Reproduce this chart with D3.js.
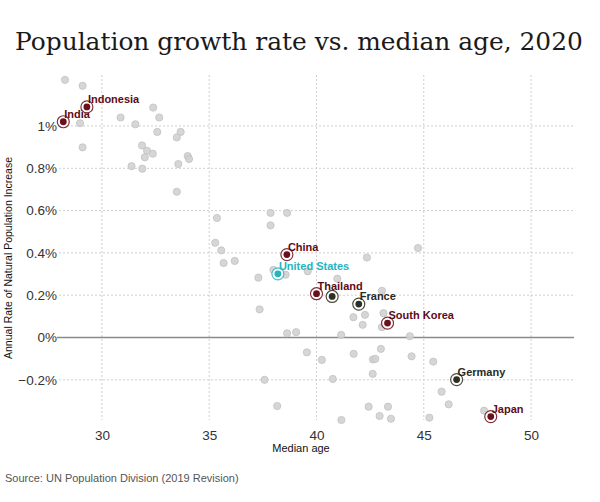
<!DOCTYPE html>
<html>
<head>
<meta charset="utf-8">
<script src="https://cdn.jsdelivr.net/npm/d3@7/dist/d3.min.js"></script>
<style>
  html, body { margin: 0; padding: 0; background: #fff; }
  svg { display: block; }
</style>
</head>
<body>
<svg id="chart" width="600" height="502"></svg>
<script>
// ---- Data (median age, annual rate of natural increase in %) ----
const otherAges = [
  28.28, 29.1, 28.98, 29.1, 32.39, 32.67, 30.87, 31.56, 32.58, 33.67, 33.49,
  31.87, 32.1, 32.37, 32.0, 34.0, 34.06, 33.56, 31.38, 31.88, 33.49,
  35.36, 37.86, 38.63, 37.86, 35.28, 35.56, 35.67, 36.19, 37.99, 38.56, 37.29,
  39.59, 40.97, 37.35, 41.72, 38.63, 39.05, 41.15, 44.73, 42.35, 43.05, 43.12,
  42.26, 42.15, 43.05, 44.35,
  39.55, 40.25, 41.73, 43.0, 44.43, 42.63, 42.74, 45.44, 37.58, 40.76, 42.62,
  38.17, 42.43, 43.33, 42.94, 43.47, 41.16, 45.26, 45.83, 46.16, 47.81
];
const otherRates = [
  1.218, 1.19, 1.013, 0.899, 1.087, 1.04, 1.04, 1.008, 0.972, 0.972, 0.946,
  0.908, 0.883, 0.869, 0.852, 0.858, 0.844, 0.82, 0.81, 0.798, 0.689,
  0.565, 0.589, 0.589, 0.53, 0.448, 0.412, 0.352, 0.362, 0.32, 0.297, 0.283,
  0.313, 0.278, 0.133, 0.096, 0.02, 0.025, 0.012, 0.423, 0.378, 0.221, 0.115,
  0.107, 0.06, 0.049, 0.006,
  -0.07, -0.106, -0.077, -0.054, -0.089, -0.104, -0.101, -0.114, -0.2, -0.196, -0.172,
  -0.324, -0.327, -0.327, -0.371, -0.384, -0.39, -0.379, -0.256, -0.316, -0.346
];

const hlNames = ["India", "Indonesia", "China", "United States", "Thailand", "", "France", "South Korea", "Germany", "Japan"];
const hlAges  = [28.2, 29.3, 38.62, 38.2, 40.0, 40.73, 41.97, 43.31, 46.53, 48.12];
const hlRates = [1.02, 1.09, 0.392, 0.301, 0.207, 0.194, 0.158, 0.068, -0.199, -0.374];
const hlGroup = ["red", "red", "red", "us", "red", "dark", "dark", "red", "dark", "red"];

const xTicks = [30, 35, 40, 45, 50];
const yTicks = [-0.2, 0, 0.2, 0.4, 0.6, 0.8, 1];

const titleText = "Population growth rate vs. median age, 2020";
const xTitle = "Median age";
const yTitle = "Annual Rate of Natural Population Increase";
const sourceText = "Source: UN Population Division (2019 Revision)";

// ---- Styles ----
const dotColor = { red: "#6a0f1c", us: "#28b3bf", dark: "#2f2e22" };
const labelColor = { red: "#5e0b16", us: "#26b4c0", dark: "#2a2a1e" };

const svg = d3.select("#chart");
const pLeft = 59, pRight = 574, pTop = 75, pBottom = 420;

const x = d3.scaleLinear().domain([28, 52]).range([pLeft, pRight]);
const y = d3.scaleLinear().domain([-0.39, 1.241]).range([pBottom, pTop]);

// Title
const title = svg.append("text")
  .attr("x", 15).attr("y", 50)
  .attr("font-family", "'DejaVu Serif', Georgia, serif")
  .attr("font-size", 26)
  .attr("fill", "#1a1a1a")
  .text(titleText);
const tw = title.node().getComputedTextLength();
title.attr("font-size", 26 * 568 / tw);

// Grid lines
const grid = svg.append("g");
grid.selectAll(".vg").data(xTicks).join("line")
  .attr("x1", d => x(d)).attr("x2", d => x(d))
  .attr("y1", pTop).attr("y2", pBottom)
  .attr("stroke", "#cfcfcf").attr("stroke-dasharray", "2,2");
grid.selectAll(".hg").data(yTicks.filter(d => d !== 0)).join("line")
  .attr("x1", pLeft).attr("x2", pRight)
  .attr("y1", d => y(d)).attr("y2", d => y(d))
  .attr("stroke", "#cfcfcf").attr("stroke-dasharray", "2,2");
// Zero line
svg.append("line")
  .attr("x1", 57).attr("x2", pRight)
  .attr("y1", y(0)).attr("y2", y(0))
  .attr("stroke", "#8a8a8a").attr("stroke-width", 1.3);

// Axes (labels only)
const xAxis = d3.axisBottom(x).tickValues(xTicks).tickSize(0).tickPadding(0);
const gx = svg.append("g").attr("transform", `translate(0, 436)`).call(xAxis);
gx.select(".domain").remove();
gx.selectAll("text").attr("font-family", "'Liberation Sans', Arial, sans-serif")
  .attr("font-size", 13.5).attr("fill", "#333").attr("dy", "0.32em");

const yAxis = d3.axisLeft(y).tickValues(yTicks).tickSize(0).tickPadding(0)
  .tickFormat(d => d3.format("~g")(d) + "%");
const gy = svg.append("g").attr("transform", `translate(57, 0)`).call(yAxis);
gy.select(".domain").remove();
gy.selectAll("text").attr("font-family", "'Liberation Sans', Arial, sans-serif")
  .attr("font-size", 13.5).attr("fill", "#333");

// Axis titles
svg.append("text")
  .attr("x", 301).attr("y", 452)
  .attr("text-anchor", "middle")
  .attr("font-family", "'Liberation Sans', Arial, sans-serif")
  .attr("font-size", 11).attr("fill", "#111")
  .text(xTitle);
svg.append("text")
  .attr("transform", "translate(12, 258) rotate(-90)")
  .attr("text-anchor", "middle")
  .attr("font-family", "'Liberation Sans', Arial, sans-serif")
  .attr("font-size", 10.5).attr("fill", "#111")
  .text(yTitle);

// Source
svg.append("text")
  .attr("x", 5).attr("y", 482)
  .attr("font-family", "'Liberation Sans', Arial, sans-serif")
  .attr("font-size", 11).attr("fill", "#555")
  .text(sourceText);

// Other countries
const others = otherAges.map((a, i) => ({ a, r: otherRates[i] }));
svg.append("g").selectAll("circle").data(others).join("circle")
  .attr("cx", d => x(d.a)).attr("cy", d => y(d.r))
  .attr("r", 3.6)
  .attr("fill", "#d2d2d2").attr("stroke", "#c2c2c2").attr("stroke-width", 0.8)
  .attr("fill-opacity", 0.9);

// Highlighted countries
const hl = hlNames.map((n, i) => ({ n, a: hlAges[i], r: hlRates[i], g: hlGroup[i] }));
const hg = svg.append("g").selectAll("g").data(hl).join("g")
  .attr("transform", d => `translate(${x(d.a)},${y(d.r)})`);
hg.append("circle").attr("r", 6).attr("fill", "#fff").attr("fill-opacity", 0.8)
  .attr("stroke", d => dotColor[d.g]).attr("stroke-width", 1.2).attr("stroke-opacity", 0.85);
hg.append("circle").attr("r", 3.4).attr("fill", d => dotColor[d.g]);
hg.append("text")
  .attr("x", 1).attr("y", -4)
  .attr("font-family", "'Liberation Sans', Arial, sans-serif")
  .attr("font-size", 11).attr("font-weight", "bold")
  .attr("fill", d => labelColor[d.g])
  .text(d => d.n);
</script>
</body>
</html>
